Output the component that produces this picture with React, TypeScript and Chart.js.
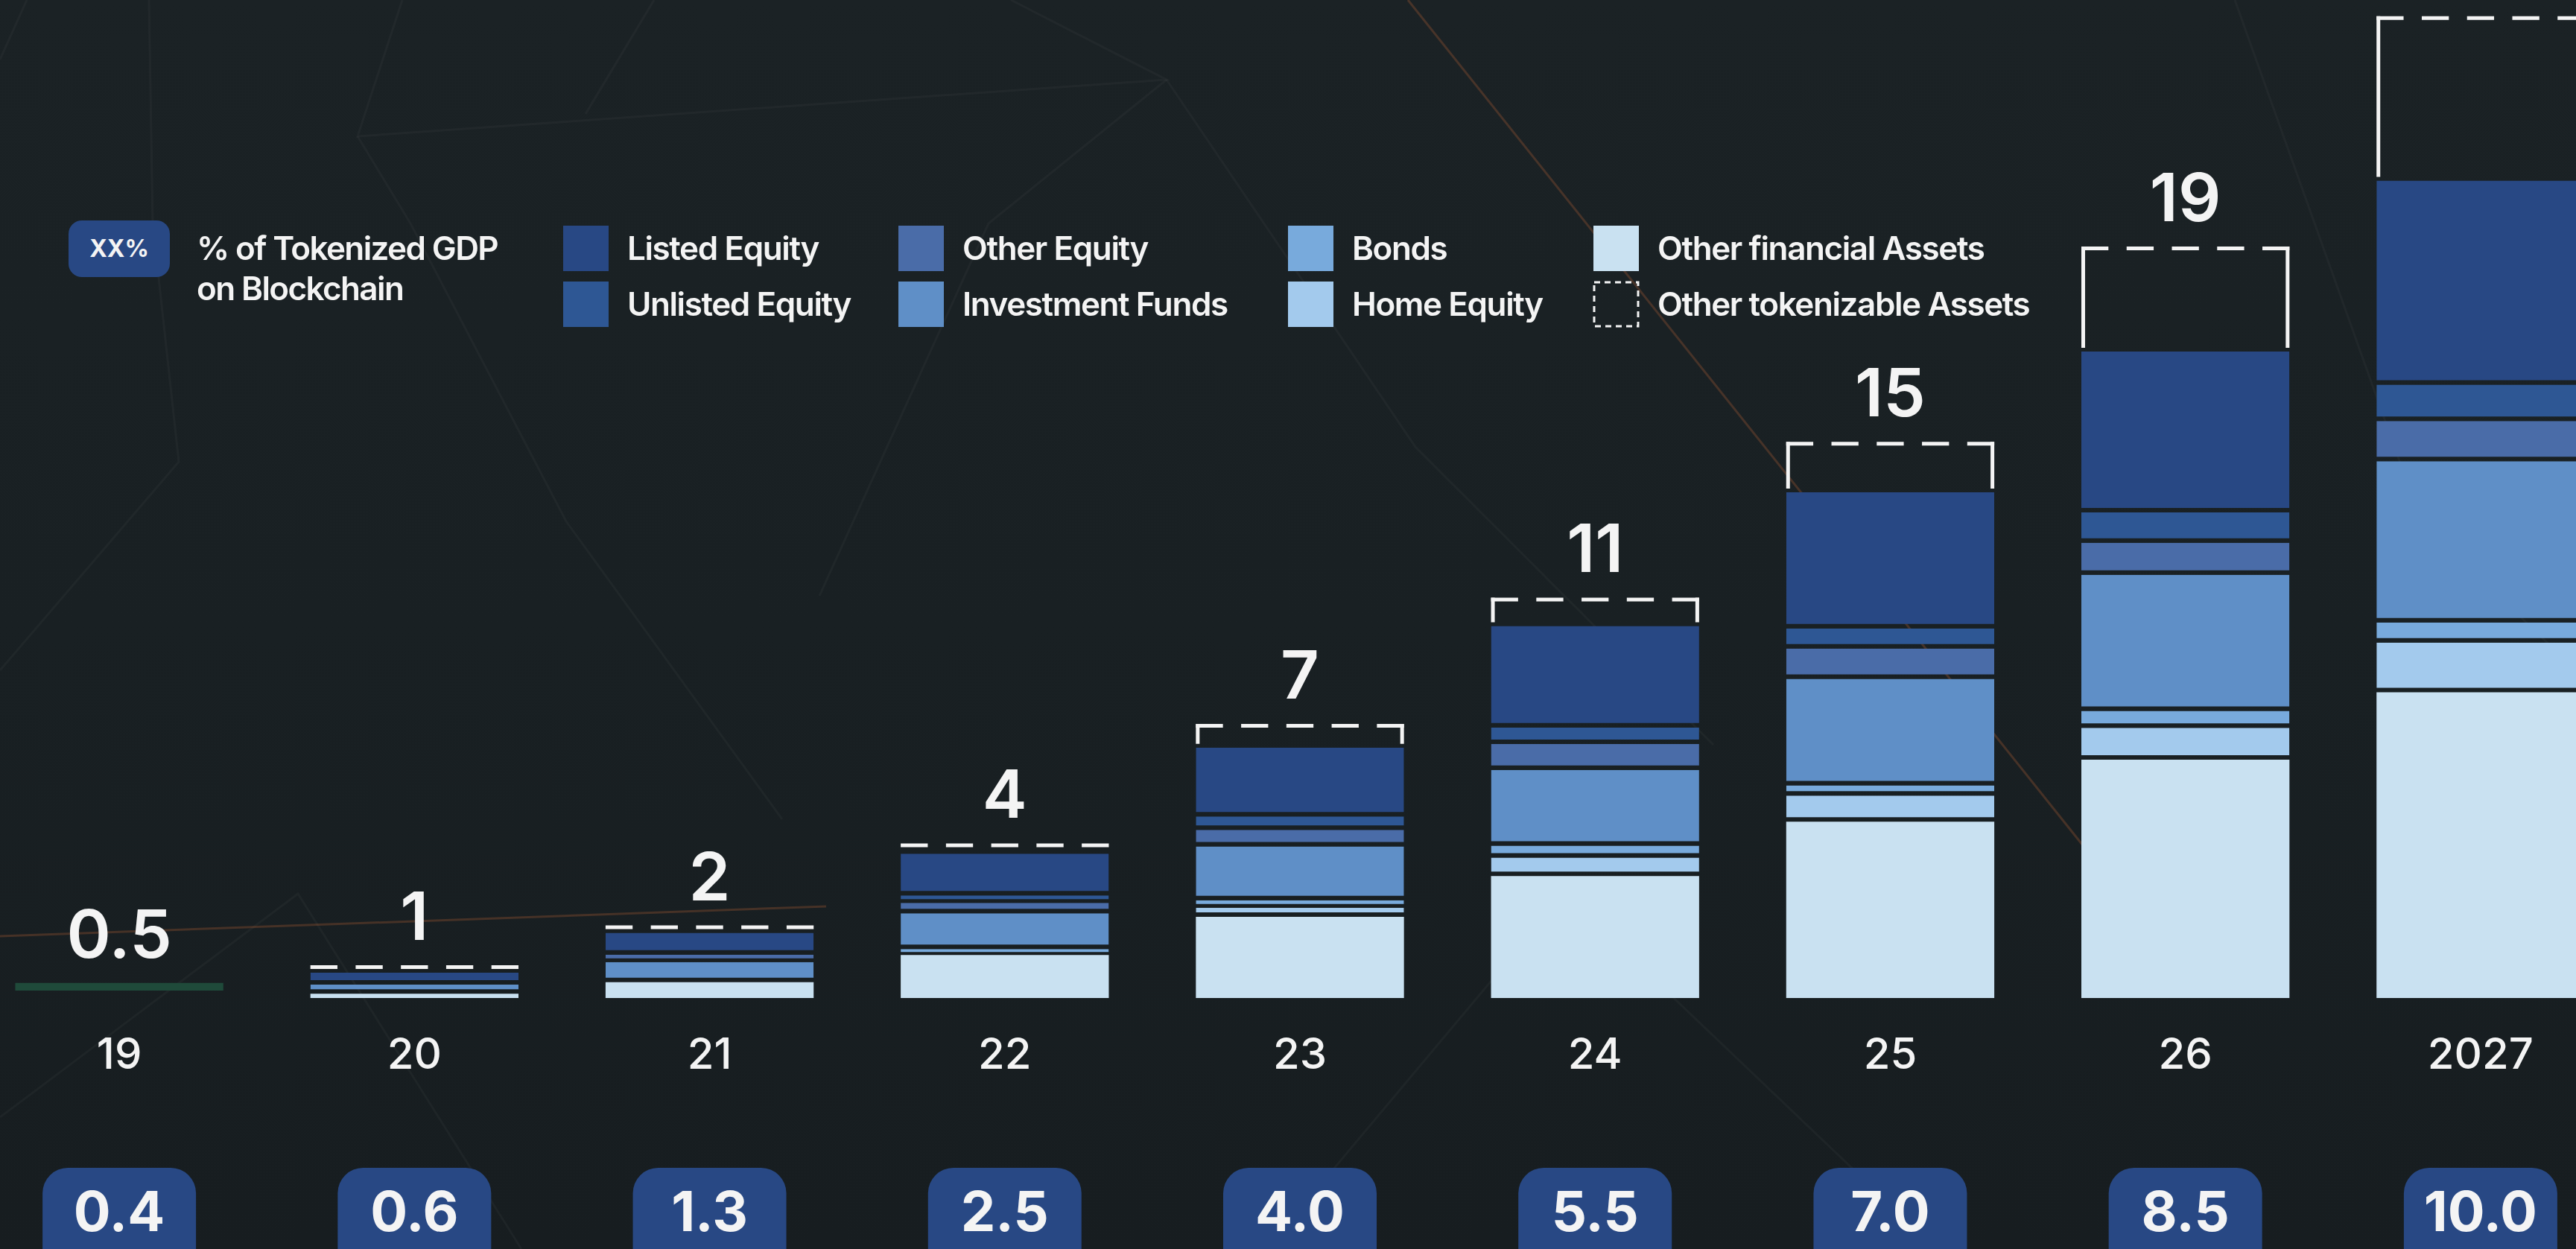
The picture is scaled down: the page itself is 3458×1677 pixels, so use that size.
import React, { useEffect, useRef } from 'react';
import { Chart, registerables } from 'chart.js';

Chart.register(...registerables);

// ---------- data ----------
const CATEGORIES = ['19', '20', '21', '22', '23', '24', '25', '26', '2027'];
const TOTAL_LABELS = ['0.5', '1', '2', '4', '7', '11', '15', '19', '24'];
const GDP_SHARE = ['0.4', '0.6', '1.3', '2.5', '4.0', '5.5', '7.0', '8.5', '10.0'];

const YEAR_2019 = [[0.19, 0.38], null, null, null, null, null, null, null, null];
const OTHER_FINANCIAL = [null, 0.11, 0.4, 1.09, 2.06, 3.09, 4.47, 6.04, 7.75];
const HOME_EQUITY = [null, null, null, null, 0.23, 0.47, 0.66, 0.81, 1.26];
const BONDS = [null, null, null, 0.15, 0.19, 0.3, 0.26, 0.43, 0.51];
const INVESTMENT_FUNDS = [null, 0.23, 0.51, 0.91, 1.36, 1.92, 2.7, 3.45, 4.09];
const OTHER_EQUITY = [null, null, 0.19, 0.26, 0.42, 0.66, 0.77, 0.81, 1.02];
const UNLISTED_EQUITY = [null, null, null, 0.19, 0.34, 0.42, 0.51, 0.77, 0.92];
const LISTED_EQUITY = [null, 0.3, 0.55, 1.06, 1.75, 2.57, 3.45, 4.08, 5.17];
const OTHER_TOKENIZABLE = [null, 0.19, 0.19, 0.26, 0.6, 0.72, 1.28, 2.66, 4.17];

// ---------- styles ----------
const WHITE = '#f4f4f4';
const BADGE = '#284884';
const C_LISTED = '#284884';
const C_UNLISTED = '#2e5794';
const C_OTHER_EQ = '#4a6ca8';
const C_FUNDS = '#5f8fc7';
const C_BONDS = '#78aadc';
const C_HOME = '#a3caed';
const C_OTHER_FIN = '#c9e1f1';
const C_2019 = '#1f4a3a';
const FONT = 'Inter, "Open Sans", sans-serif';
const GAP = 6;

const BRACKET_INDEX = 8;

const overlayPlugin = {
  id: 'overlay',
  afterDatasetsDraw(chart: any) {
    const ctx: CanvasRenderingContext2D = chart.ctx;
    const xs = chart.scales.x;
    ctx.save();
    // dashed brackets for "Other tokenizable Assets"
    const meta = chart.getDatasetMeta(BRACKET_INDEX);
    meta.data.forEach((el: any, i: number) => {
      if (OTHER_TOKENIZABLE[i] == null) return;
      const p = el.getProps(['x', 'y', 'base', 'width'], true);
      const left = p.x - p.width / 2;
      const right = p.x + p.width / 2;
      const lw = 5;
      ctx.strokeStyle = WHITE;
      ctx.lineWidth = lw;
      ctx.lineCap = 'butt';
      const d = p.width * 0.13;
      const g = (p.width - 5 * d) / 4;
      ctx.setLineDash([d, g]);
      ctx.beginPath();
      ctx.moveTo(left, p.y + lw / 2);
      ctx.lineTo(right, p.y + lw / 2);
      ctx.stroke();
      ctx.setLineDash([]);
      const sideBottom = p.base - 5;
      if (sideBottom - p.y > 20) {
        ctx.beginPath();
        ctx.moveTo(left + lw / 2, p.y);
        ctx.lineTo(left + lw / 2, sideBottom);
        ctx.moveTo(right - lw / 2, p.y);
        ctx.lineTo(right - lw / 2, sideBottom);
        ctx.stroke();
      }
    });
    // total labels above stacks
    ctx.fillStyle = WHITE;
    ctx.textAlign = 'center';
    ctx.textBaseline = 'alphabetic';
    ctx.font = `600 90px ${FONT}`;
    for (let i = 0; i < CATEGORIES.length; i++) {
      let top = Infinity;
      let cx = xs.getPixelForValue(i);
      chart.data.datasets.forEach((ds: any, di: number) => {
        if (ds.data[i] == null) return;
        const el = chart.getDatasetMeta(di).data[i];
        if (!el) return;
        const p = el.getProps(['x', 'y', 'base'], true);
        top = Math.min(top, p.y, p.base);
        cx = p.x;
      });
      if (top !== Infinity) ctx.fillText(TOTAL_LABELS[i], cx, top - 34);
    }
    // GDP share badges
    for (let i = 0; i < CATEGORIES.length; i++) {
      const cx = xs.getPixelForValue(i);
      ctx.fillStyle = BADGE;
      ctx.beginPath();
      (ctx as any).roundRect(cx - 103, 1568, 206, 150, 34);
      ctx.fill();
      ctx.fillStyle = WHITE;
      ctx.font = `700 74px ${FONT}`;
      ctx.fillText(GDP_SHARE[i], cx, 1653);
    }
    ctx.restore();
  },
};

const LEGEND = [
  { label: 'Listed Equity', color: C_LISTED, col: 0, row: 0 },
  { label: 'Unlisted Equity', color: C_UNLISTED, col: 0, row: 1 },
  { label: 'Other Equity', color: C_OTHER_EQ, col: 1, row: 0 },
  { label: 'Investment Funds', color: C_FUNDS, col: 1, row: 1 },
  { label: 'Bonds', color: C_BONDS, col: 2, row: 0 },
  { label: 'Home Equity', color: C_HOME, col: 2, row: 1 },
  { label: 'Other financial Assets', color: C_OTHER_FIN, col: 3, row: 0 },
  { label: 'Other tokenizable Assets', color: null, col: 3, row: 1 },
];
const LEGEND_COL_X = [756, 1206, 1729, 2139];
const LEGEND_ROW_Y = [303, 378];

export default function App() {
  const ref = useRef<HTMLCanvasElement>(null);

  useEffect(() => {
    const canvas = ref.current;
    if (!canvas) return;
    const seg = (label: string, data: any[], color: string, bottomGap: number) => ({
      label,
      data,
      backgroundColor: color,
      borderColor: 'rgba(0,0,0,0)',
      borderWidth: { top: 0, left: 0, right: 0, bottom: bottomGap },
      borderSkipped: false,
      inflateAmount: 0,
      barPercentage: 0.705,
      categoryPercentage: 1,
    });
    const chart = new Chart(canvas, {
      type: 'bar',
      data: {
        labels: CATEGORIES,
        datasets: [
          seg('2019', YEAR_2019, C_2019, 0),
          seg('Other financial Assets', OTHER_FINANCIAL, C_OTHER_FIN, 0),
          seg('Home Equity', HOME_EQUITY, C_HOME, GAP),
          seg('Bonds', BONDS, C_BONDS, GAP),
          seg('Investment Funds', INVESTMENT_FUNDS, C_FUNDS, GAP),
          seg('Other Equity', OTHER_EQUITY, C_OTHER_EQ, GAP),
          seg('Unlisted Equity', UNLISTED_EQUITY, C_UNLISTED, GAP),
          seg('Listed Equity', LISTED_EQUITY, C_LISTED, GAP),
          seg('Other tokenizable Assets', OTHER_TOKENIZABLE, 'rgba(0,0,0,0)', 0),
        ] as any,
      },
      options: {
        animation: false,
        responsive: false,
        devicePixelRatio: 1,
        events: [],
        layout: { padding: 0 },
        plugins: { legend: { display: false }, tooltip: { enabled: false } },
        scales: {
          x: {
            stacked: true,
            offset: true,
            grid: { display: false, drawTicks: false },
            border: { display: false },
            ticks: {
              color: WHITE,
              font: { family: FONT, size: 58, weight: '500' },
              padding: 43,
              maxRotation: 0,
              autoSkip: false,
            },
            afterFit: (s: any) => {
              s.height = 337;
            },
          },
          y: { stacked: true, display: false, min: 0, max: 25.3 },
        },
      } as any,
      plugins: [overlayPlugin],
    });
    return () => chart.destroy();
  }, []);

  const textStyle: React.CSSProperties = {
    position: 'absolute',
    color: WHITE,
    fontFamily: FONT,
    fontWeight: 600,
    fontSize: 44,
    letterSpacing: '-1.4px',
    whiteSpace: 'nowrap',
  };

  return (
    <div
      style={{
        position: 'fixed',
        left: 0,
        top: 0,
        width: 3458,
        height: 1677,
        overflow: 'hidden',
        background: 'linear-gradient(180deg, #1b2225 0%, #192023 50%, #171d20 100%)',
      }}
    >
      <svg width={3458} height={1677} style={{ position: 'absolute', left: 0, top: 0 }}>
        <g stroke="rgba(255,255,255,0.03)" strokeWidth={3} fill="none">
          <polyline points="36,0 0,80" />
          <polyline points="200,0 205,300 240,620 0,900" />
          <polyline points="540,0 480,183 1566,107 1357,0" />
          <polyline points="878,0 786,153" />
          <polyline points="480,183 551,300 760,700 1050,1100" />
          <polyline points="1566,107 1327,300 1100,800" />
          <polyline points="1566,107 1900,600 2300,1000" />
          <polyline points="3000,0 3250,700 3458,900" />
          <polyline points="2600,1677 2100,1200 1700,1677" />
          <polyline points="0,1500 400,1200 700,1677" />
        </g>
        <g stroke="rgba(190,100,55,0.28)" strokeWidth={3} fill="none">
          <line x1={0} y1={1257} x2={1109} y2={1217} />
          <line x1={1890} y1={0} x2={2800} y2={1140} />
        </g>
      </svg>
      <div style={{ position: 'absolute', left: -38, top: 0, width: 3566, height: 1677 }}>
        <canvas ref={ref} width={3566} height={1677} style={{ width: 3566, height: 1677, display: 'block' }} />
      </div>

      {/* legend: GDP badge */}
      <div
        style={{
          position: 'absolute',
          left: 92,
          top: 296,
          width: 136,
          height: 76,
          borderRadius: 18,
          background: BADGE,
          color: WHITE,
          fontFamily: FONT,
          fontWeight: 700,
          fontSize: 32,
          lineHeight: '76px',
          textAlign: 'center',
        }}
      >
        XX%
      </div>
      <div style={{ ...textStyle, left: 264, top: 306, lineHeight: '54px', letterSpacing: '-1.6px' }}>
        % of Tokenized GDP
        <br />
        on Blockchain
      </div>

      {LEGEND.map((it) => {
        const x = LEGEND_COL_X[it.col];
        const y = LEGEND_ROW_Y[it.row];
        return (
          <React.Fragment key={it.label}>
            {it.color ? (
              <div style={{ position: 'absolute', left: x, top: y, width: 61, height: 61, background: it.color }} />
            ) : (
              <svg width={64} height={64} style={{ position: 'absolute', left: x - 1, top: y - 1 }}>
                <rect x={2} y={2} width={59} height={59} fill="none" stroke={WHITE} strokeWidth={3} strokeDasharray="8 6" />
              </svg>
            )}
            <div style={{ ...textStyle, left: x + 86, top: y, height: 61, lineHeight: '61px' }}>{it.label}</div>
          </React.Fragment>
        );
      })}
    </div>
  );
}
